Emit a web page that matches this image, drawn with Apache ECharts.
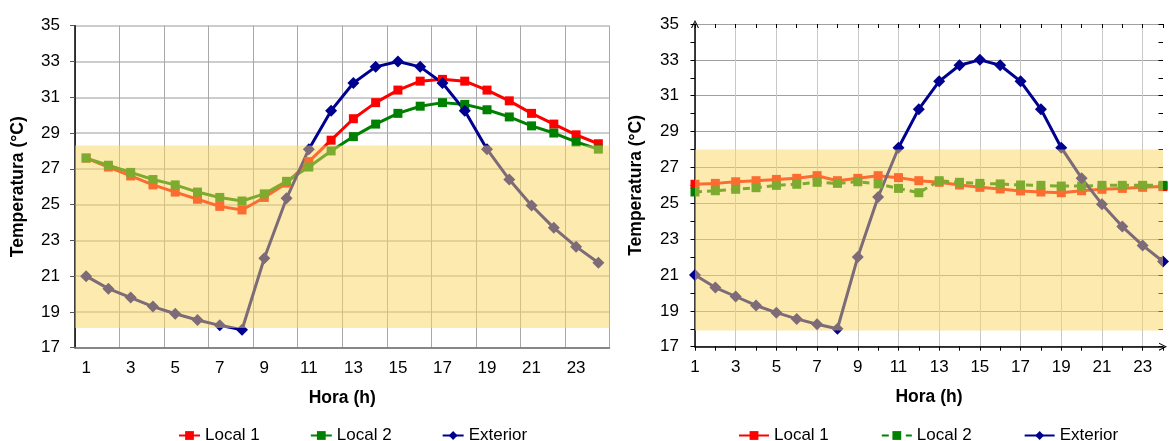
<!DOCTYPE html>
<html><head><meta charset="utf-8">
<script src="https://cdn.jsdelivr.net/npm/echarts@6/dist/echarts.min.js"></script>
<style>html,body{margin:0;padding:0;background:#fff}#c{width:1169px;height:441px}</style>
</head><body><div id="c"></div>
<script>
const hours = ['1','2','3','4','5','6','7','8','9','10','11','12','13','14','15','16','17','18','19','20','21','22','23','24'];
const yTicks = [17, 35, 2]; // min, max, step

// Left chart
const local1A = [27.6, 27.1, 26.6, 26.1, 25.7, 25.3, 24.9, 24.7, 25.4, 26.2, 27.4, 28.6, 29.8, 30.7, 31.4, 31.9, 32.0, 31.9, 31.4, 30.8, 30.1, 29.5, 28.9, 28.4];
const local2A = [27.6, 27.2, 26.8, 26.4, 26.1, 25.7, 25.4, 25.2, 25.6, 26.3, 27.1, 28.0, 28.8, 29.5, 30.1, 30.5, 30.7, 30.6, 30.3, 29.9, 29.4, 29.0, 28.5, 28.1];
const exteriorA = [21.0, 20.3, 19.8, 19.3, 18.9, 18.55, 18.25, 18.0, 22.0, 25.35, 28.1, 30.25, 31.8, 32.7, 33.0, 32.7, 31.8, 30.25, 28.1, 26.4, 24.95, 23.7, 22.65, 21.75];
const bandA = [18.1, 28.3];

// Right chart
const local1B = [26.06, 26.11, 26.2, 26.26, 26.33, 26.39, 26.54, 26.26, 26.39, 26.54, 26.43, 26.26, 26.17, 26.02, 25.89, 25.8, 25.69, 25.63, 25.59, 25.7, 25.78, 25.83, 25.89, 25.93];
const local2B = [25.63, 25.7, 25.78, 25.87, 26.0, 26.06, 26.17, 26.11, 26.2, 26.08, 25.83, 25.59, 26.26, 26.17, 26.11, 26.08, 26.02, 26.0, 25.96, 25.96, 26.0, 26.0, 26.0, 26.0];
const exteriorB = [21.0, 20.3, 19.8, 19.3, 18.9, 18.55, 18.25, 18.0, 22.0, 25.35, 28.1, 30.25, 31.8, 32.7, 33.0, 32.7, 31.8, 30.25, 28.1, 26.4, 24.95, 23.7, 22.65, 21.75];
const bandB = [17.9, 28.0];

const seriesNames = ['Local 1', 'Local 2', 'Exterior'];
const xTitle = 'Hora (h)';
const yTitle = 'Temperatura (°C)';

const FONT = '"Liberation Sans", Arial, Helvetica, sans-serif';
const RED = '#ff0000', GREEN = '#008000', NAVY = '#000090';
const BAND = 'rgba(250,214,96,0.5)';
const ARROW = 'path://M0,10 L5,0 L10,10 L8.6,10 L5,2.6 L1.4,10 Z';

const labelStyle = { color: '#000', fontSize: 17, fontFamily: FONT };
const titleStyle = { color: '#000', fontSize: 17.5, fontWeight: 'bold', fontFamily: FONT };

function lineSeries(name, data, color, symbol, size, xi, yi, extra) {
  return Object.assign({
    type: 'line', name: name, data: data, xAxisIndex: xi, yAxisIndex: yi,
    symbol: symbol, symbolSize: size, showSymbol: true, animation: false,
    lineStyle: { color: color, width: 3 }, itemStyle: { color: color },
    emphasis: { disabled: true }
  }, extra || {});
}
function band(b) {
  return { silent: true, z: 10, itemStyle: { color: BAND }, label: { show: false },
    data: [[{ yAxis: b[0] }, { yAxis: b[1] }]] };
}

const chart = echarts.init(document.getElementById('c'));
chart.setOption({
  animation: false,
  grid: [
    { left: 75, top: 25.7, width: 534.5, height: 322 },
    { left: 695, top: 24, width: 468, height: 322.7 }
  ],
  legend: [
    { left: 173, top: 422, itemWidth: 21, itemHeight: 11, itemGap: 50, textStyle: labelStyle,
      data: seriesNames.slice() },
    { left: 733, top: 422, itemWidth: 30, itemHeight: 11, itemGap: 52, textStyle: labelStyle,
      data: [seriesNames[0], { name: seriesNames[1], lineStyle: { type: [7, 5] } }, seriesNames[2]] }
  ],
  xAxis: [
    { gridIndex: 0, type: 'category', data: hours, boundaryGap: true,
      axisLine: { lineStyle: { color: '#707070', width: 1.5 } },
      axisTick: { interval: 1, length: 5, lineStyle: { color: '#000' } },
      axisLabel: Object.assign({ interval: 1, margin: 12 }, labelStyle),
      splitLine: { show: true, interval: 1, lineStyle: { color: '#a8a8a8', width: 1 } },
      name: xTitle, nameLocation: 'middle', nameGap: 41, nameTextStyle: titleStyle },
    { gridIndex: 1, type: 'category', data: hours, boundaryGap: false,
      axisLine: { lineStyle: { color: '#000', width: 1.5 }, symbol: ['none', ARROW], symbolSize: [8, 10] },
      axisTick: { interval: 0, length: 4, lineStyle: { color: '#000' } },
      axisLabel: Object.assign({ interval: 1, margin: 12 }, labelStyle),
      splitLine: { show: true, interval: 1, lineStyle: { color: '#c8c8c8', width: 1 } },
      name: xTitle, nameLocation: 'middle', nameGap: 41, nameTextStyle: titleStyle },
    { gridIndex: 1, type: 'category', data: hours, boundaryGap: false,
      axisLine: { show: false },
      axisTick: { interval: 0, inside: true, length: 4, lineStyle: { color: '#000' } },
      axisLabel: { show: false }, splitLine: { show: false } }
  ],
  yAxis: [
    { gridIndex: 0, type: 'value', min: yTicks[0], max: yTicks[1], interval: yTicks[2],
      axisLine: { show: true, lineStyle: { color: '#000', width: 1.5 } },
      axisTick: { show: true, length: 5, lineStyle: { color: '#555' } },
      axisLabel: Object.assign({ margin: 15 }, labelStyle),
      splitLine: { show: true, lineStyle: { color: '#bdbdbd', width: 1.5 } },
      name: yTitle, nameLocation: 'middle', nameGap: 48, nameTextStyle: titleStyle },
    { gridIndex: 1, type: 'value', min: yTicks[0], max: yTicks[1], interval: yTicks[2],
      axisLine: { show: true, lineStyle: { color: '#000', width: 1.5 }, symbol: ['none', ARROW], symbolSize: [8, 10] },
      axisTick: { show: true, length: 4.5, lineStyle: { color: '#000' } },
      minorTick: { show: true, splitNumber: 2, length: 4.5, lineStyle: { color: '#000' } },
      axisLabel: Object.assign({ margin: 16 }, labelStyle),
      splitLine: { show: true, lineStyle: { color: '#a0a0a0', width: 1 } },
      name: yTitle, nameLocation: 'middle', nameGap: 50, nameTextStyle: titleStyle },
    { gridIndex: 1, type: 'value', min: yTicks[0], max: yTicks[1], interval: yTicks[2],
      axisLine: { show: false },
      axisTick: { show: true, inside: true, length: 4.5, lineStyle: { color: '#000' } },
      minorTick: { show: true, splitNumber: 2, length: 4.5, lineStyle: { color: '#000' } },
      axisLabel: { show: false }, splitLine: { show: false } }
  ],
  series: [
    lineSeries(seriesNames[0], local1A, RED, 'rect', 9, 0, 0),
    lineSeries(seriesNames[1], local2A, GREEN, 'rect', 9, 0, 0),
    lineSeries(seriesNames[2], exteriorA, NAVY, 'diamond', [12, 12], 0, 0, { markArea: band(bandA) }),
    lineSeries(seriesNames[0], local1B, RED, 'rect', 9, 1, 1),
    lineSeries(seriesNames[1], local2B, GREEN, 'rect', 9, 1, 1, { lineStyle: { color: GREEN, width: 3, type: [7, 5] } }),
    lineSeries(seriesNames[2], exteriorB, NAVY, 'diamond', [12, 12], 1, 1, { markArea: band(bandB) })
  ]
});
</script>
</body></html>
